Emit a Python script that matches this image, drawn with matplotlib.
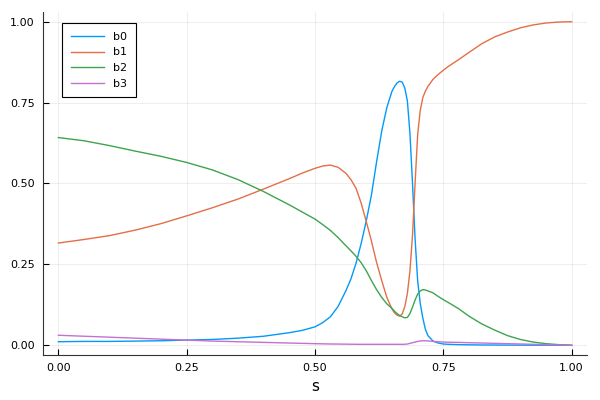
import numpy as np
import matplotlib
matplotlib.use("Agg")
import matplotlib.pyplot as plt

# s values (denser around the transition near s = 0.68)
s = [0.0, 0.05, 0.1, 0.15, 0.2, 0.25, 0.3, 0.35, 0.4, 0.45,
     0.475, 0.5, 0.515, 0.53, 0.545,
     0.56, 0.57, 0.58, 0.59, 0.6,
     0.61, 0.62, 0.63, 0.64, 0.65,
     0.655, 0.66, 0.665, 0.67, 0.675,
     0.68, 0.685, 0.69, 0.695, 0.7,
     0.705, 0.71, 0.715, 0.72, 0.73,
     0.74, 0.75, 0.76, 0.78, 0.8,
     0.825, 0.85, 0.875, 0.9, 0.925,
     0.95, 0.975, 1.0]

b0 = [0.011, 0.012, 0.012, 0.013, 0.014, 0.016, 0.018, 0.022, 0.028, 0.039,
      0.046, 0.057, 0.070, 0.088, 0.12,
      0.168, 0.205, 0.254, 0.315, 0.385,
      0.465, 0.567, 0.662, 0.735, 0.785,
      0.80, 0.811, 0.816, 0.813, 0.795,
      0.755, 0.655, 0.50, 0.33, 0.20,
      0.13, 0.085, 0.05, 0.03, 0.013,
      0.007, 0.004, 0.003, 0.002, 0.0015,
      0.001, 0.0008, 0.0006, 0.0004, 0.0003,
      0.0002, 0.0001, 0.0]

b1 = [0.316, 0.327, 0.339, 0.356, 0.376, 0.40, 0.425, 0.452, 0.483, 0.515,
      0.532, 0.547, 0.554, 0.557, 0.550,
      0.532, 0.512, 0.485, 0.439, 0.382,
      0.322, 0.256, 0.20, 0.148, 0.112,
      0.10, 0.093, 0.09, 0.097, 0.12,
      0.16, 0.23, 0.34, 0.50, 0.65,
      0.725, 0.765, 0.785, 0.80, 0.822,
      0.837, 0.85, 0.862, 0.883, 0.905,
      0.932, 0.953, 0.968, 0.981, 0.99,
      0.996, 0.999, 1.0]

b2 = [0.642, 0.632, 0.617, 0.600, 0.584, 0.565, 0.542, 0.512, 0.475, 0.434,
      0.412, 0.39, 0.373, 0.355, 0.333,
      0.308, 0.292, 0.275, 0.255, 0.23,
      0.20, 0.172, 0.148, 0.128, 0.114,
      0.105, 0.098, 0.092, 0.088, 0.085,
      0.086, 0.098, 0.118, 0.14, 0.158,
      0.168, 0.172, 0.171, 0.168, 0.162,
      0.151, 0.141, 0.132, 0.113, 0.09,
      0.066, 0.047, 0.03, 0.018, 0.01,
      0.005, 0.002, 0.0]

b3 = [0.031, 0.028, 0.025, 0.022, 0.019, 0.016, 0.013, 0.011, 0.009, 0.007,
      0.006, 0.005, 0.0045, 0.004, 0.0038,
      0.0035, 0.0033, 0.0031, 0.003, 0.003,
      0.003, 0.003, 0.003, 0.003, 0.003,
      0.003, 0.003, 0.003, 0.003, 0.0032,
      0.004, 0.006, 0.008, 0.010, 0.012,
      0.013, 0.014, 0.014, 0.0135, 0.012,
      0.011, 0.010, 0.0095, 0.009, 0.008,
      0.007, 0.006, 0.005, 0.004, 0.003,
      0.002, 0.001, 0.0]

labels = ["b0", "b1", "b2", "b3"]
colors = ["#009AFA", "#E36F47", "#3EA44E", "#C371D2"]
ticks = [0.0, 0.25, 0.5, 0.75, 1.0]

fig = plt.figure(figsize=(6, 4), dpi=100)
ax = fig.add_axes([43 / 600, 1 - 355 / 400, 544 / 600, 343 / 400])

for y, lab, c in zip([b0, b1, b2, b3], labels, colors):
    ax.plot(s, y, color=c, lw=1, label=lab)

ax.set_xlim(-0.03, 1.03)
ax.set_ylim(-0.03, 1.03)
ax.set_xticks(ticks)
ax.set_yticks(ticks)
ax.set_xticklabels([f"{t:.2f}" for t in ticks])
ax.set_yticklabels([f"{t:.2f}" for t in ticks])
ax.tick_params(direction="in", length=4, width=0.8, labelsize=8, pad=6)
ax.grid(True, color="black", alpha=0.08, lw=0.6)
ax.set_axisbelow(True)
for side in ["top", "right"]:
    ax.spines[side].set_visible(False)
for side in ["left", "bottom"]:
    ax.spines[side].set_color("#333333")
ax.set_xlabel("s", fontsize=11)

leg = ax.legend(loc="upper left", bbox_to_anchor=(0.035, 0.968), borderaxespad=0,
                fontsize=8, fancybox=False, framealpha=1, edgecolor="black",
                handlelength=3, borderpad=0.8, labelspacing=0.5)
leg.get_frame().set_linewidth(0.8)

fig.savefig("out.png", dpi=100)
